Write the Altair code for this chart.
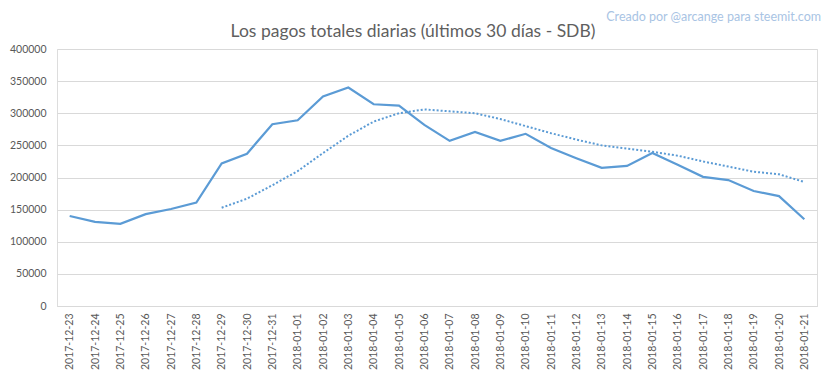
import altair as alt
import pandas as pd

fechas = [
    "2017-12-23", "2017-12-24", "2017-12-25", "2017-12-26", "2017-12-27", "2017-12-28",
    "2017-12-29", "2017-12-30", "2017-12-31", "2018-01-01", "2018-01-02", "2018-01-03",
    "2018-01-04", "2018-01-05", "2018-01-06", "2018-01-07", "2018-01-08", "2018-01-09",
    "2018-01-10", "2018-01-11", "2018-01-12", "2018-01-13", "2018-01-14", "2018-01-15",
    "2018-01-16", "2018-01-17", "2018-01-18", "2018-01-19", "2018-01-20", "2018-01-21",
]
pagos = [
    140000, 131000, 128000, 143000, 151000, 161000,
    222000, 237000, 283000, 289000, 326000, 340000,
    314000, 312000, 282000, 257000, 271000, 257000,
    268000, 246000, 230000, 215000, 218000, 238000,
    220000, 201000, 196000, 179000, 171000, 135000,
]
media = [
    None, None, None, None, None, None,
    153000, 167000, 188000, 210000, 238000, 265000,
    287000, 300000, 306000, 303000, 300000, 291000,
    280000, 269000, 259000, 250000, 245000, 240000,
    234000, 225000, 217000, 209000, 205000, 193000,
]
y_ticks = [0, 50000, 100000, 150000, 200000, 250000, 300000, 350000, 400000]
titulo = "Los pagos totales diarias (últimos 30 días - SDB)"
firma = "Creado por @arcange para steemit.com"

df = pd.DataFrame({"fecha": fechas, "pagos": pagos, "media": media})

FONT = "Lato"
GRAY = "#595959"
BLUE = "#5b9bd5"

x_axis = alt.Axis(labelAngle=270, labelPadding=7, ticks=False, domain=True,
                  domainColor="#d9d9d9", labelColor=GRAY, labelFontSize=10.5,
                  labelFont=FONT, grid=False, labelOverlap=False)
y_axis = alt.Axis(values=y_ticks, format="d", grid=True, gridColor="#d9d9d9",
                  domain=False, ticks=False, labelPadding=11, labelColor=GRAY,
                  labelFontSize=10.5, labelFont=FONT, labelOverlap=False)
x_scale = alt.Scale(padding=0.5)
y_scale = alt.Scale(domain=[0, 400000])

base = alt.Chart(df)

linea = base.mark_line(color=BLUE, strokeWidth=2.2).encode(
    x=alt.X("fecha:O", sort=None, title=None, scale=x_scale, axis=x_axis),
    y=alt.Y("pagos:Q", scale=y_scale, title=None, axis=y_axis),
)

tendencia = base.transform_filter("datum.media != null").mark_line(
    color=BLUE, strokeWidth=2, strokeDash=[2, 2]
).encode(
    x=alt.X("fecha:O", sort=None, title=None, scale=x_scale, axis=x_axis),
    y=alt.Y("media:Q", scale=y_scale, title=None, axis=y_axis),
)

marca = alt.Chart(pd.DataFrame({"t": [firma]})).mark_text(
    align="right", baseline="middle", font=FONT, fontSize=12.5, color="#a9c4e4"
).encode(text="t:N", x=alt.value(764), y=alt.value(-32))

cabecera = alt.Chart(pd.DataFrame({"t": [titulo]})).mark_text(
    align="center", baseline="alphabetic", font=FONT, fontSize=17.5, color="#5f5f5f"
).encode(text="t:N", x=alt.value(356), y=alt.value(-12))

chart = alt.layer(linea, tendencia, marca, cabecera).properties(
    width=760, height=257,
    padding={"left": 49, "top": 41, "right": 8, "bottom": 66},
    autosize=alt.AutoSizeParams(type="none"),
).configure_view(stroke=None).configure(background="white")

chart.save("out.html", embed_options={"renderer": "svg", "actions": False})
